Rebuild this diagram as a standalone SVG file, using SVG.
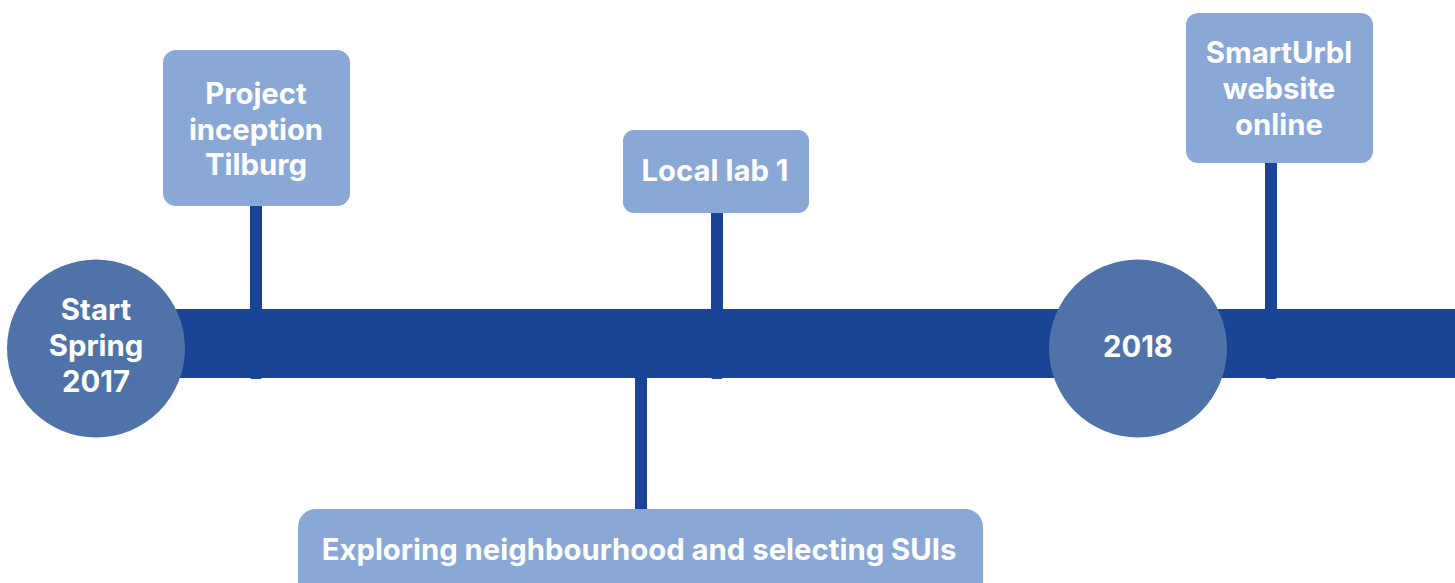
<svg xmlns="http://www.w3.org/2000/svg" width="1455" height="583" viewBox="0 0 1455 583">
<style>
.stem{fill:#1A4597}
.box{fill:#8AA8D6}
.circ{fill:#4F72A8}
.t{fill:#ffffff;font-family:Inter,"Liberation Sans",sans-serif;font-weight:700;font-size:29.3px;text-anchor:middle}
</style>
<rect width="1455" height="583" fill="#ffffff"/>
<g id="connectors">
<rect class="stem" x="250" y="200" width="12" height="179" rx="2"/>
<rect class="stem" x="711" y="208" width="12" height="171" rx="2"/>
<rect class="stem" x="635" y="370" width="12" height="145"/>
<rect class="stem" x="1265" y="158" width="12" height="221" rx="2"/>
</g>
<g id="timeline-bar">
<rect class="stem" x="170" y="309" width="1285" height="69"/>
</g>
<g id="start">
<circle class="circ" cx="96" cy="348.5" r="89"/>
<text class="t" x="96" y="320">Start</text>
<text class="t" x="96" y="356">Spring</text>
<text class="t" x="96" y="392">2017</text>
</g>
<g id="project-inception">
<rect class="box" x="163" y="50" width="187" height="156" rx="13"/>
<text class="t" x="256" y="104">Project</text>
<text class="t" x="256" y="140">inception</text>
<text class="t" x="256" y="175">Tilburg</text>
</g>
<g id="local-lab">
<rect class="box" x="623" y="130" width="186" height="83" rx="11"/>
<text class="t" x="715" y="181">Local lab 1</text>
</g>
<g id="exploring">
<rect class="box" x="298" y="509" width="685" height="100" rx="18"/>
<text class="t" x="639" y="560">Exploring neighbourhood and selecting SUIs</text>
</g>
<g id="y2018">
<circle class="circ" cx="1138" cy="348.5" r="89"/>
<text class="t" x="1138" y="357">2018</text>
</g>
<g id="website">
<rect class="box" x="1186" y="13" width="187" height="150" rx="12"/>
<text class="t" x="1279" y="63">SmartUrbl</text>
<text class="t" x="1279" y="99">website</text>
<text class="t" x="1279" y="135">online</text>
</g>
</svg>
